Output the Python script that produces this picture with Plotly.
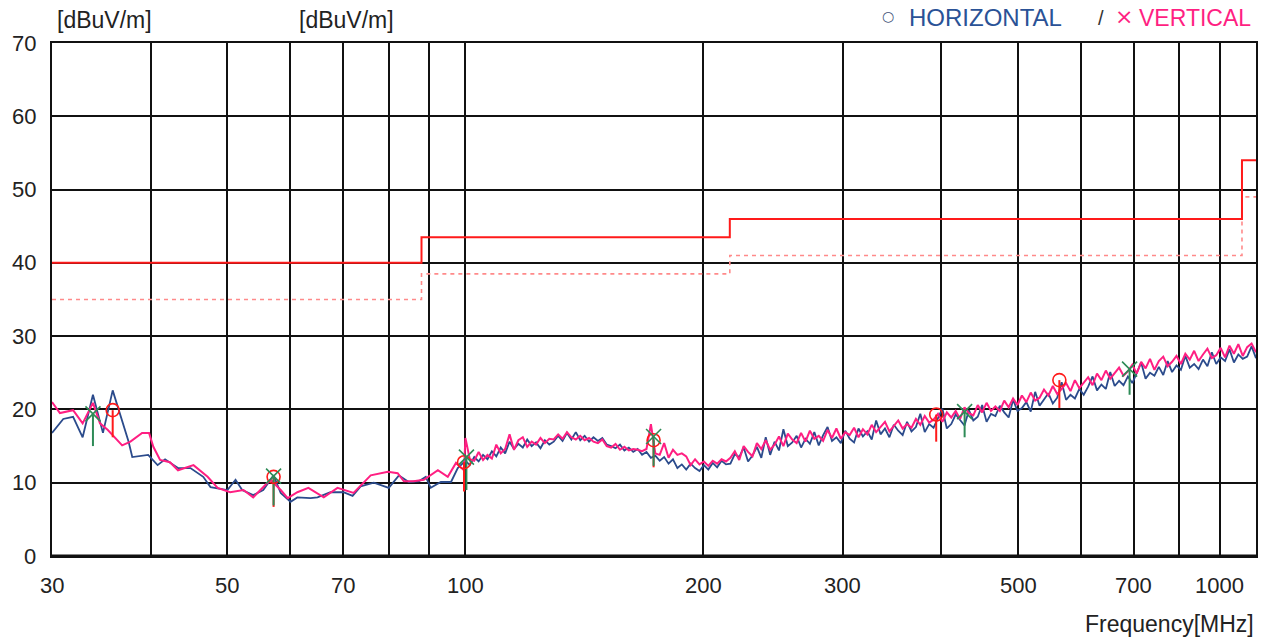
import numpy as np
import plotly.graph_objects as go

# ---------------- data ----------------
# Low band (30-100 MHz), read point by point
H_LOW_FREQ = [30.0, 31.0, 31.9, 32.8, 33.8, 34.8, 35.8, 37.5, 37.9, 39.7, 40.8, 41.7, 43.3, 44.9, 46.6,
              47.6, 50.0, 51.2, 52.2, 53.9, 55.5, 57.2, 58.4, 60.1, 61.3, 63.7, 65.0, 67.5, 70.1, 72.0,
              73.7, 76.6, 80.0, 82.4, 84.8, 87.3, 89.1, 90.4, 93.1, 95.9, 97.8]
H_LOW_LEVEL = [16.8, 18.7, 19.0, 16.2, 22.0, 16.8, 22.6, 15.6, 13.5, 13.8, 12.4, 13.2, 12.0, 12.0, 10.8,
               9.4, 9.0, 10.4, 9.0, 8.3, 9.0, 11.0, 8.6, 7.4, 8.0, 7.9, 8.0, 8.7, 8.7, 8.2,
               9.5, 10.0, 9.3, 11.0, 10.1, 10.2, 10.8, 9.3, 10.1, 10.1, 12.0]
V_LOW_FREQ = [30.0, 30.7, 31.9, 32.8, 33.8, 34.5, 35.3, 36.8, 37.7, 39.0, 39.8, 40.3, 41.1, 42.3, 43.3,
              45.3, 47.2, 48.6, 50.4, 52.4, 53.9, 55.5, 56.7, 58.4, 59.6, 61.3, 63.3, 66.2, 68.9, 72.2,
              75.9, 79.8, 82.1, 83.6, 86.0, 88.6, 92.3, 95.0, 97.3, 99.6]
V_LOW_LEVEL = [21.0, 19.5, 19.9, 18.1, 20.9, 18.1, 17.2, 15.1, 15.6, 16.8, 16.8, 14.9, 13.1, 12.8, 11.7,
               12.4, 10.8, 9.3, 8.7, 9.0, 8.0, 9.4, 10.4, 9.0, 7.9, 8.7, 9.3, 8.0, 9.3, 8.6,
               11.0, 11.5, 11.3, 10.2, 10.2, 10.4, 11.7, 10.8, 12.7, 11.7]

# High band sweep (100-1000 MHz), levels read along the sweep
HIGH_START_MHZ = 100.0
HIGH_STOP_MHZ = 1000.0
H_HIGH_LEVEL = [
    13.0, 12.4, 13.5, 12.9, 13.8, 13.2, 14.3, 13.6, 14.8, 14.0,
    15.6, 14.6, 15.3, 14.8, 15.9, 15.0, 15.5, 14.7, 15.8, 15.2,
    15.6, 16.4, 15.7, 16.8, 15.9, 16.9, 15.8, 16.4, 15.6, 16.2,
    15.7, 16.1, 15.2, 15.0, 14.7, 15.2, 14.4, 14.8, 14.2, 14.6,
    13.8, 14.2, 13.4, 13.7, 13.0, 13.5, 12.6, 13.2, 12.0, 12.5,
    11.8, 12.6, 12.0, 11.6, 12.4, 11.8, 12.7, 12.1, 13.0, 12.5,
    12.6, 13.9, 13.5, 14.8, 12.9, 13.7, 14.9, 13.4, 16.2, 13.8,
    15.6, 14.4, 17.3, 15.0, 15.5, 16.4, 14.8, 16.0, 15.3, 16.9,
    15.1, 16.5, 17.6, 15.7, 16.2, 15.4, 17.1, 16.0, 15.5, 17.4,
    16.3, 17.0, 15.9, 18.5, 16.6, 17.4, 16.2, 17.9, 17.1, 16.5,
    18.3, 17.0, 17.6, 19.4, 16.9, 18.0, 17.5, 18.8, 20.1, 17.4,
    18.0, 19.3, 18.6, 17.8, 19.9, 18.5, 19.0, 20.6, 18.3, 19.4,
    19.1, 20.5, 19.6, 18.9, 21.3, 19.8, 20.2, 21.0, 19.7, 22.4,
    20.5, 21.4, 22.2, 20.8, 21.6, 23.7, 21.3, 22.0, 21.5, 22.8,
    22.0, 23.1, 24.5, 22.6, 23.4, 22.8, 25.1, 23.2, 23.9, 23.3,
    24.5, 23.6, 24.9, 26.4, 24.2, 25.0, 24.6, 25.8, 24.7, 26.6,
    25.1, 26.0, 25.4, 27.3, 25.7, 26.2, 25.5, 26.8, 25.9, 27.8,
    26.2, 27.1, 26.6, 28.2, 26.4, 27.5, 26.9, 27.2, 28.6, 27.0]
V_HIGH_LEVEL = [
    16.1, 13.2, 13.0, 14.2, 13.1, 13.8, 13.3, 15.2, 14.0, 14.6,
    16.6, 14.5, 15.8, 16.2, 14.9, 15.6, 15.2, 16.1, 15.4, 16.0,
    15.9, 16.6, 16.0, 16.9, 16.2, 15.9, 16.4, 15.8, 16.1, 15.6,
    15.4, 15.9, 15.0, 14.8, 15.3, 14.5, 14.9, 14.4, 14.6, 14.5,
    14.3, 14.6, 18.0, 14.0, 13.8, 15.4, 13.4, 14.5, 13.8, 14.0,
    13.6, 12.4, 13.2, 12.5, 12.9, 12.3, 13.0, 12.6, 13.2, 12.9,
    13.4, 14.3, 13.1, 15.0, 14.2, 13.6, 15.4, 14.6, 15.8, 14.5,
    15.2, 16.3, 15.0, 16.7, 15.9, 15.4, 16.8, 15.6, 17.1, 16.0,
    16.4, 15.7, 17.2, 16.1, 17.4, 16.0, 16.9, 16.5, 17.5, 16.2,
    17.3, 16.6, 17.9, 16.9, 17.6, 18.3, 17.0, 17.8, 18.5, 17.4,
    18.0, 17.5, 18.7, 17.9, 19.1, 18.2, 18.6, 19.4, 18.3, 19.6,
    18.9, 19.8, 18.7, 20.3, 19.5, 19.2, 20.6, 19.6, 20.9, 19.8,
    20.4, 19.8, 21.2, 20.3, 21.5, 20.6, 21.9, 21.0, 22.3, 21.2,
    21.6, 22.7, 21.9, 23.2, 22.1, 22.8, 23.6, 22.5, 24.0, 22.9,
    23.6, 24.4, 23.3, 24.9, 24.0, 25.3, 24.2, 25.0, 25.7, 24.6,
    25.2, 26.1, 24.9, 26.5, 25.6, 26.9, 25.4, 26.6, 27.2, 25.9,
    26.5, 27.3, 26.2, 27.6, 26.8, 28.0, 26.6, 27.5, 28.3, 27.0,
    27.4, 28.4, 27.1, 28.7, 27.6, 28.9, 27.3, 28.5, 29.0, 27.8]

# Limit lines (step edges in MHz)
LIMIT_FREQ = [30, 88, 88, 216, 216, 960, 960, 1000]
LIMIT_QP = [40, 40, 43.5, 43.5, 46, 46, 54, 54]
LIMIT_MARGIN = [35, 35, 38.5, 38.5, 41, 41, 49, 49]

# Final measurement markers
H_PEAK_FREQ = [35.8, 57.2, 99.6, 173.0, 394.0, 564.0]
H_PEAK_LEVEL = [19.9, 10.8, 12.8, 15.8, 19.3, 24.0]
H_QP_LEVEL = [16.2, 6.7, 8.8, 12.1, 15.6, 20.2]
V_PEAK_FREQ = [33.8, 57.2, 100.3, 173.0, 428.0, 692.0]
V_PEAK_LEVEL = [19.4, 10.9, 13.5, 16.3, 19.7, 25.5]
V_QP_LEVEL = [15.0, 6.9, 9.0, 12.3, 16.2, 22.0]

X_TICK_LABELS = [30, 50, 70, 100, 200, 300, 500, 700, 1000]
X_GRID = [30, 40, 50, 60, 70, 80, 90, 100, 200, 300, 400, 500, 600, 700, 800, 900, 1000]
Y_TICKS = [0, 10, 20, 30, 40, 50, 60, 70]

# ---------------- figure ----------------
W, H = 1269, 639
L, R, T, B = 52, 13, 43, 83
PW, PH = W - L - R, H - T - B

def px_x(px):
    return (px - L) / PW

def px_y(py):
    return (H - B - py) / PH

NAVY = "#2b4b8c"
PINK = "#ff1f82"
RED = "#ff1a1a"
GREEN = "#2e8b57"
FONT = "Liberation Sans, Arial, sans-serif"

n_high = len(H_HIGH_LEVEL)
high_freq = list(np.geomspace(HIGH_START_MHZ, HIGH_STOP_MHZ, n_high))

fig = go.Figure()

fig.add_trace(go.Scatter(x=H_LOW_FREQ + high_freq, y=H_LOW_LEVEL + H_HIGH_LEVEL, mode="lines",
                         line=dict(color=NAVY, width=1.8), showlegend=False))
fig.add_trace(go.Scatter(x=V_LOW_FREQ + high_freq, y=V_LOW_LEVEL + V_HIGH_LEVEL, mode="lines",
                         line=dict(color=PINK, width=2.0), showlegend=False))

fig.add_trace(go.Scatter(x=LIMIT_FREQ, y=LIMIT_MARGIN, mode="lines",
                         line=dict(color="#ff8a8a", width=1.6, dash="4px,4px"), showlegend=False))
fig.add_trace(go.Scatter(x=LIMIT_FREQ, y=LIMIT_QP, mode="lines",
                         line=dict(color=RED, width=2), showlegend=False))

# sticks
def sticks(freqs, tops, bottoms):
    xs, ys = [], []
    for f, t, b in zip(freqs, tops, bottoms):
        xs += [f, f, None]
        ys += [t, b, None]
    return xs, ys

hx, hy = sticks(H_PEAK_FREQ, H_PEAK_LEVEL, H_QP_LEVEL)
vx, vy = sticks(V_PEAK_FREQ, V_PEAK_LEVEL, V_QP_LEVEL)
fig.add_trace(go.Scatter(x=hx, y=hy, mode="lines", line=dict(color=RED, width=2), showlegend=False))
fig.add_trace(go.Scatter(x=vx, y=vy, mode="lines", line=dict(color=GREEN, width=2), showlegend=False))
fig.add_trace(go.Scatter(x=H_PEAK_FREQ, y=H_PEAK_LEVEL, mode="markers",
                         marker=dict(symbol="circle-open", size=13, color=RED, line=dict(width=1.6)),
                         showlegend=False))
fig.add_trace(go.Scatter(x=V_PEAK_FREQ, y=V_PEAK_LEVEL, mode="markers",
                         marker=dict(symbol="x-thin-open", size=15, color=GREEN, line=dict(width=1.6, color=GREEN)),
                         showlegend=False))

annotations = []
for v in X_TICK_LABELS:
    a = dict(x=np.log10(v), xref="x", y=px_y(586), yref="paper", text=str(v), showarrow=False,
             font=dict(family=FONT, size=22, color="#222"), yanchor="middle", xanchor="center")
    if v == X_TICK_LABELS[-1]:
        a.update(xanchor="right", xshift=-10)
    annotations.append(a)
for v in Y_TICKS:
    annotations.append(dict(x=px_x(38), xref="paper", y=v, yref="y", text=str(v), showarrow=False,
                            font=dict(family=FONT, size=22, color="#222"), xanchor="right", yanchor="middle"))

annotations += [
    dict(x=px_x(55), xref="paper", y=px_y(20), yref="paper", text="[dBuV/m]", showarrow=False,
         font=dict(family=FONT, size=23, color="#222"), xanchor="left", yanchor="middle"),
    dict(x=px_x(297), xref="paper", y=px_y(20), yref="paper", text="[dBuV/m]", showarrow=False,
         font=dict(family=FONT, size=23, color="#222"), xanchor="left", yanchor="middle"),
    dict(x=px_x(1256), xref="paper", y=px_y(624), yref="paper", text="Frequency[MHz]", showarrow=False,
         font=dict(family=FONT, size=23, color="#222"), xanchor="right", yanchor="middle"),
    dict(x=px_x(888), xref="paper", y=px_y(16), yref="paper", text="○", showarrow=False,
         font=dict(family="DejaVu Sans", size=14, color="#44557a"), xanchor="center", yanchor="middle"),
    dict(x=px_x(907), xref="paper", y=px_y(18), yref="paper", text="HORIZONTAL", showarrow=False,
         font=dict(family=FONT, size=24, color="#2a5296"), xanchor="left", yanchor="middle"),
    dict(x=px_x(1101), xref="paper", y=px_y(18), yref="paper", text="/", showarrow=False,
         font=dict(family=FONT, size=20, color="#333"), xanchor="center", yanchor="middle"),
    dict(x=px_x(1124), xref="paper", y=px_y(16), yref="paper", text="×", showarrow=False,
         font=dict(family="DejaVu Sans", size=22, color=PINK), xanchor="center", yanchor="middle"),
    dict(x=px_x(1137), xref="paper", y=px_y(18), yref="paper", text="VERTICAL", showarrow=False,
         font=dict(family=FONT, size=23, color=PINK), xanchor="left", yanchor="middle"),
]

fig.update_layout(
    width=W, height=H,
    margin=dict(l=L, r=R, t=T, b=B, pad=0),
    paper_bgcolor="white", plot_bgcolor="white",
    annotations=annotations,
    xaxis=dict(type="log", range=[np.log10(30), np.log10(1000)], tickvals=X_GRID, showticklabels=False,
               showgrid=True, gridcolor="#111", gridwidth=1.6, ticks="", zeroline=False,
               showline=True, linecolor="#111", linewidth=1.6, mirror=True),
    yaxis=dict(range=[0, 70], tickvals=Y_TICKS, showticklabels=False, showgrid=True, gridcolor="#111",
               gridwidth=1.6, ticks="", zeroline=False, showline=True, linecolor="#111", linewidth=1.6,
               mirror=True),
    shapes=[dict(type="line", xref="paper", yref="y", x0=0, x1=1, y0=0, y1=0,
                 line=dict(color="#111", width=3))],
)

fig.write_html("out.html", config={"displayModeBar": False},
               post_script="document.body.style.margin='0';")
